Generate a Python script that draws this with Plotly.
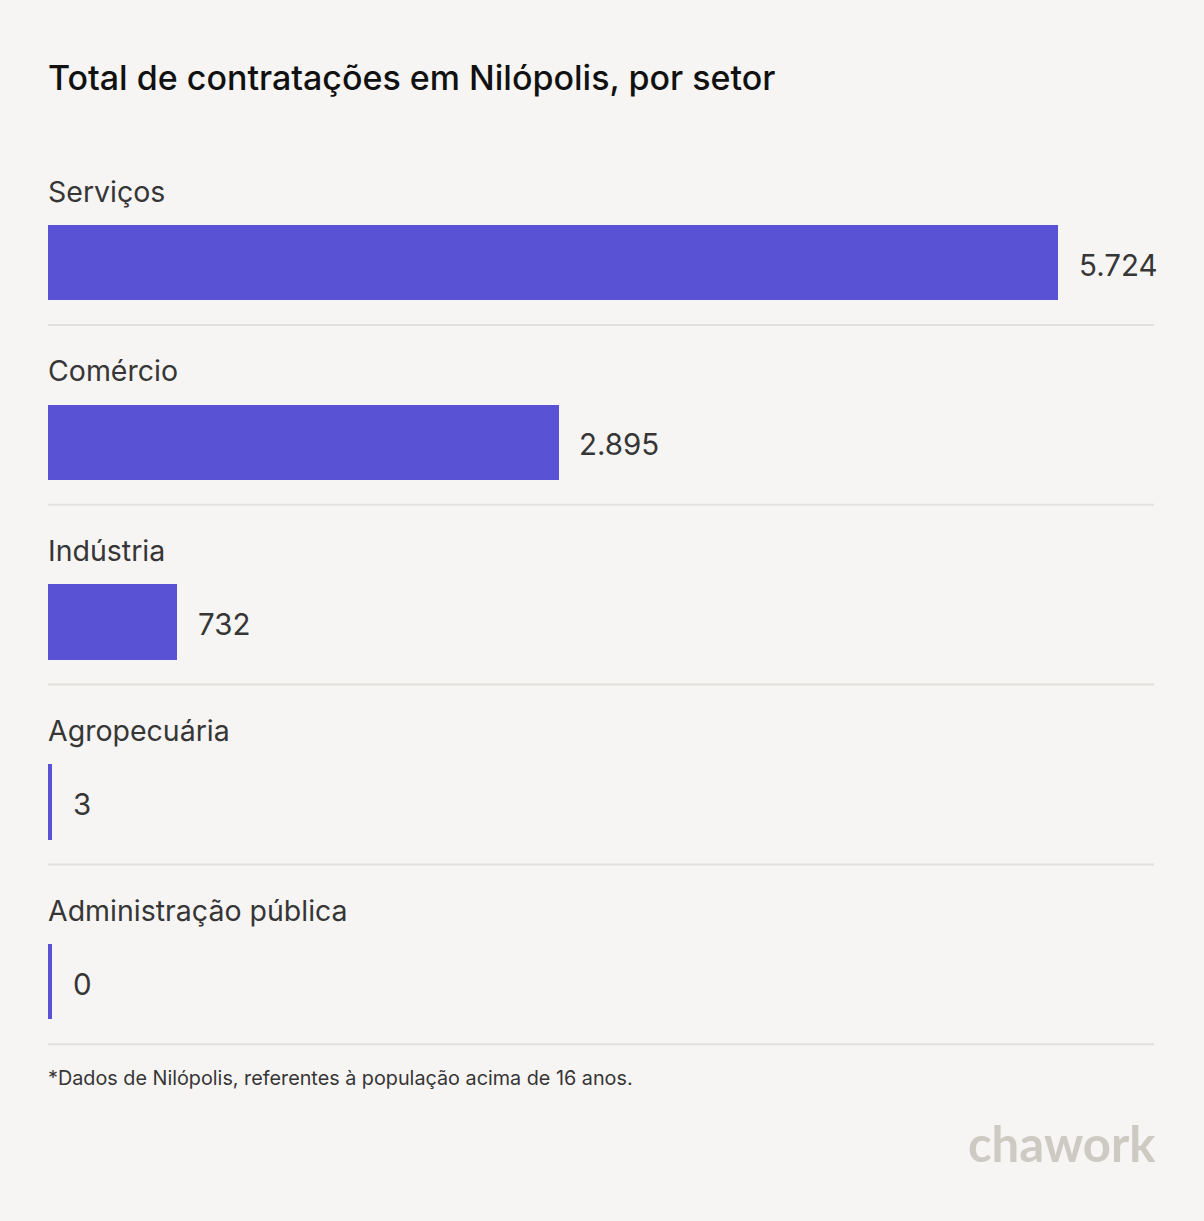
import plotly.graph_objects as go

categories = ["Serviços", "Comércio", "Indústria", "Agropecuária", "Administração pública"]
values = [5724, 2895, 732, 3, 0]
value_labels = ["5.724", "2.895", "732", "3", "0"]

title = "Total de contratações em Nilópolis, por setor"
footnote = "*Dados de Nilópolis, referentes à população acima de 16 anos."
brand = "chawork"

W, H = 1204, 1221
BG = "#f6f5f3"
BAR = "#5952d5"
TXT = "#363636"
SEP = "#e2e0dc"
FONT = "Inter"

ML, MR = 48, 50
plot_w = W - ML - MR
bar_full_px = 1010.0
px_per_unit = bar_full_px / max(values)
xmax = plot_w / px_per_unit
min_units = 4.0 / px_per_unit
shown = [max(v, min_units) for v in values]

step = 179.8
c0 = 262.5
y_top = -c0 / step
y_bot = (H - c0) / step
ypos = list(range(len(categories)))

fig = go.Figure()
fig.add_trace(go.Bar(
    x=shown, y=ypos, orientation="h",
    width=75.5 / step,
    marker=dict(color=BAR, line=dict(width=0)),
    hoverinfo="skip",
))

annotations = []
shapes = []
for i, (cat, lab, s) in enumerate(zip(categories, value_labels, shown)):
    annotations.append(dict(
        x=0, y=i - 71.5 / step, xref="x", yref="y", text=cat, showarrow=False,
        xanchor="left", yanchor="middle", xshift=-2,
        font=dict(family=FONT, size=28.5, color=TXT),
    ))
    annotations.append(dict(
        x=s, y=i + 2 / step, xref="x", yref="y", text=lab, showarrow=False,
        xanchor="left", yanchor="middle", xshift=18.5,
        font=dict(family=FONT, size=29.5, color=TXT),
    ))
    shapes.append(dict(
        type="line", xref="paper", yref="y", x0=0, x1=1,
        y0=i + 62.5 / step, y1=i + 62.5 / step,
        line=dict(color=SEP, width=2),
    ))

annotations.append(dict(
    x=0, y=(H - 78) / H, xref="paper", yref="paper", text=title, showarrow=False,
    xanchor="left", yanchor="middle", xshift=-2,
    font=dict(family=FONT, size=34, color="#111111", weight=500),
))
annotations.append(dict(
    x=0, y=(H - 1078) / H, xref="paper", yref="paper", text=footnote, showarrow=False,
    xanchor="left", yanchor="middle", xshift=-2,
    font=dict(family=FONT, size=19.8, color=TXT),
))
annotations.append(dict(
    x=1, y=(H - 1143) / H, xref="paper", yref="paper", text="<b>" + brand + "</b>",
    showarrow=False, xanchor="right", yanchor="middle", xshift=4,
    font=dict(family="Lato", size=49, color="#cdcac3"),
))

fig.update_layout(
    width=W, height=H,
    margin=dict(l=ML, r=MR, t=0, b=0),
    paper_bgcolor=BG, plot_bgcolor=BG,
    showlegend=False,
    bargap=0,
    xaxis=dict(range=[0, xmax], visible=False, fixedrange=True),
    yaxis=dict(range=[y_bot, y_top], visible=False, fixedrange=True),
    annotations=annotations,
    shapes=shapes,
)

fig.write_html(
    "out.html",
    config={"displayModeBar": False},
    post_script="document.body.style.margin='0';document.body.style.background='" + BG + "';",
)
